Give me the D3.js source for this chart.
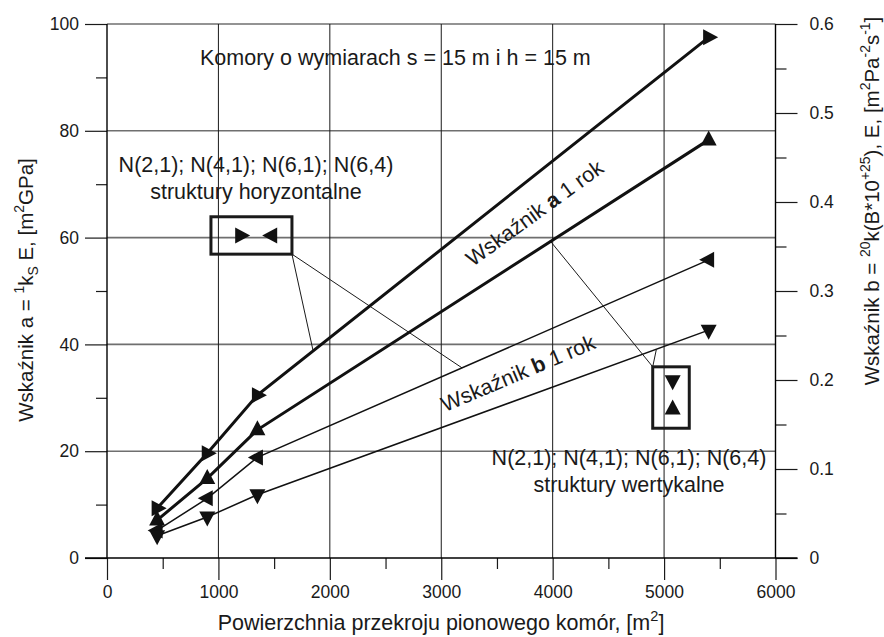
<!DOCTYPE html>
<html>
<head>
<meta charset="utf-8">
<script src="https://cdn.jsdelivr.net/npm/d3@7"></script>
<style>
  body { margin: 0; background: #fff; }
  text { font-family: "Liberation Sans", Arial, sans-serif; fill: #1a1a1a; }
</style>
</head>
<body>
<script>
// chamber cross-section area [m2]
var areas = [450, 900, 1350, 5400];
// index a (left axis) - horizontal / vertical structures
var aHoriz = [9.3, 19.6, 30.5, 97.5];
var aVert = [7.1, 14.9, 24.0, 78.3];
// index b (right axis) - horizontal / vertical structures
var bHoriz = [0.031, 0.067, 0.113, 0.335];
var bVert = [0.025, 0.046, 0.071, 0.256];

var xTicks = [0, 1000, 2000, 3000, 4000, 5000, 6000];
var xMinor = [500, 1500, 2500, 3500, 4500, 5500];
var yLeftTicks = [0, 20, 40, 60, 80, 100];
var yLeftMinor = [10, 30, 50, 70, 90];
var yRightTicks = [0, 0.1, 0.2, 0.3, 0.4, 0.5, 0.6];
var yRightMinor = [0.05, 0.15, 0.25, 0.35, 0.45, 0.55];

var w = 884, h = 637;

var x = d3.scaleLinear().domain([0, 6000]).range([107, 775.5]);
var yL = d3.scaleLinear().domain([0, 100]).range([558, 24]);
var yR = d3.scaleLinear().domain([0, 0.6]).range([558, 24]);

var svg = d3.select("body").append("svg")
    .attr("width", w)
    .attr("height", h);

// grid lines
svg.append("g").selectAll("line")
    .data(yLeftTicks.filter(function(d) { return d > 0; }))
    .enter().append("line")
    .attr("x1", x(0)).attr("x2", x(6000))
    .attr("y1", function(d) { return yL(d); })
    .attr("y2", function(d) { return yL(d); })
    .attr("stroke", "#6f6f6f").attr("stroke-width", 1.6);

svg.append("g").selectAll("line")
    .data(xTicks.filter(function(d) { return d > 0 && d < 6000; }))
    .enter().append("line")
    .attr("x1", function(d) { return x(d); })
    .attr("x2", function(d) { return x(d); })
    .attr("y1", yL(0)).attr("y2", yL(100))
    .attr("stroke", "#1a1a1a").attr("stroke-width", 1);

// axes (outward ticks, long major / short minor)
var fs = 17.5;
function styleAxis(g) {
  g.select(".domain").remove();
  g.selectAll("line").attr("stroke", "#1a1a1a").attr("stroke-width", 1.2);
  g.selectAll("text").attr("font-size", fs).attr("fill", "#1a1a1a")
    .style("font-family", "'Liberation Sans', Arial, sans-serif");
}

svg.append("g").attr("transform", "translate(" + x(0) + ",0)")
  .call(d3.axisLeft(yL).tickValues(yLeftTicks).tickSize(22).tickPadding(6).tickFormat(d3.format("d")))
  .call(styleAxis);
svg.append("g").attr("transform", "translate(" + x(0) + ",0)")
  .call(d3.axisLeft(yL).tickValues(yLeftMinor).tickSize(11).tickFormat(""))
  .call(styleAxis);

svg.append("g").attr("transform", "translate(" + x(6000) + ",0)")
  .call(d3.axisRight(yR).tickValues(yRightTicks).tickSize(22).tickPadding(12)
    .tickFormat(function(d) { return d === 0 ? "0" : d3.format(".1f")(d); }))
  .call(styleAxis);
svg.append("g").attr("transform", "translate(" + x(6000) + ",0)")
  .call(d3.axisRight(yR).tickValues(yRightMinor).tickSize(11).tickFormat(""))
  .call(styleAxis);

svg.append("g").attr("transform", "translate(0," + yL(0) + ")")
  .call(d3.axisBottom(x).tickValues(xTicks).tickSize(22).tickPadding(6).tickFormat(d3.format("d")))
  .call(styleAxis);
svg.append("g").attr("transform", "translate(0," + yL(0) + ")")
  .call(d3.axisBottom(x).tickValues(xMinor).tickSize(11).tickFormat(""))
  .call(styleAxis);

// axis lines
svg.append("line").attr("x1", x(0)).attr("x2", x(0)).attr("y1", yL(0)).attr("y2", yL(100))
  .attr("stroke", "#000").attr("stroke-width", 1.4);
svg.append("line").attr("x1", x(6000)).attr("x2", x(6000)).attr("y1", yL(0)).attr("y2", yL(100))
  .attr("stroke", "#000").attr("stroke-width", 1.4);
svg.append("line").attr("x1", x(0) - 22).attr("x2", x(6000) + 22).attr("y1", yL(0)).attr("y2", yL(0))
  .attr("stroke", "#000").attr("stroke-width", 1.4);

// series
var tri = "M0,-9.5L8,5.5L-8,5.5Z";
var rot = { up: 0, right: 90, down: 180, left: -90 };

var series = [
  { vals: aHoriz, y: yL, width: 3, dir: "right" },
  { vals: aVert, y: yL, width: 3, dir: "up" },
  { vals: bHoriz, y: yR, width: 1.5, dir: "left" },
  { vals: bVert, y: yR, width: 1.5, dir: "down" }
];

// leader lines for the legend boxes (data coordinates)
var leaders = [
  { from: [1660, 56.9], to: [1850, 38.8] },
  { from: [1660, 56.9], to: [3187, 35.6] },
  { from: [4898, 35.8], to: [3977, 59.4] },
  { from: [4898, 35.8], to: [4930, 39.0] }
];
svg.append("g").selectAll("line")
  .data(leaders).enter().append("line")
  .attr("x1", function(d) { return x(d.from[0]); })
  .attr("y1", function(d) { return yL(d.from[1]); })
  .attr("x2", function(d) { return x(d.to[0]); })
  .attr("y2", function(d) { return yL(d.to[1]); })
  .attr("stroke", "#1a1a1a").attr("stroke-width", 1);

series.forEach(function(s) {
  var line = d3.line()
    .x(function(d, i) { return x(areas[i]); })
    .y(function(d) { return s.y(d); });
  svg.append("path").datum(s.vals)
    .attr("d", line)
    .attr("fill", "none")
    .attr("stroke", "#111")
    .attr("stroke-width", s.width);
  svg.append("g").selectAll("path")
    .data(s.vals).enter().append("path")
    .attr("d", tri)
    .attr("fill", "#111")
    .attr("transform", function(d, i) {
      return "translate(" + x(areas[i]) + "," + s.y(d) + ") rotate(" + rot[s.dir] + ")";
    });
});

// legend boxes
function box(x0, x1, v0, v1) {
  svg.append("rect")
    .attr("x", x(x0)).attr("y", yL(v1))
    .attr("width", x(x1) - x(x0)).attr("height", yL(v0) - yL(v1))
    .attr("fill", "none").attr("stroke", "#1a1a1a").attr("stroke-width", 3);
}
box(933, 1660, 56.9, 63.9);
box(4898, 5226, 24.3, 35.8);

var legendMarks = [
  { cx: 1200, v: 60.4, dir: "right" },
  { cx: 1478, v: 60.4, dir: "left" },
  { cx: 5077, v: 33.2, dir: "down" },
  { cx: 5077, v: 27.9, dir: "up" }
];
svg.append("g").selectAll("path")
  .data(legendMarks).enter().append("path")
  .attr("d", tri).attr("fill", "#111")
  .attr("transform", function(d) {
    return "translate(" + x(d.cx) + "," + yL(d.v) + ") rotate(" + rot[d.dir] + ")";
  });

// rich text helper: parts = [[text, kind]] kind: "sup", "sub", "b" or undefined
function rich(g, parts, size) {
  var off = 0;
  parts.forEach(function(p) {
    var t = g.append("tspan").text(p[0]);
    var target = 0;
    if (p[1] === "sup") { target = -size * 0.42; t.attr("font-size", size * 0.68); }
    else if (p[1] === "sub") { target = size * 0.22; t.attr("font-size", size * 0.68); }
    else { t.attr("font-size", size); }
    if (p[1] === "b") t.attr("font-weight", "bold");
    if (target !== off) { t.attr("dy", target - off); off = target; }
  });
  return g;
}

var tf = 21.5;   // annotations
var af = 20.5;   // axis titles
svg.append("text").attr("x", 200).attr("y", 65).attr("font-size", tf)
  .text("Komory o wymiarach s = 15 m i h = 15 m");

svg.append("text").attr("x", 256).attr("y", 172).attr("font-size", tf).attr("text-anchor", "middle")
  .text("N(2,1); N(4,1); N(6,1); N(6,4)");
svg.append("text").attr("x", 256).attr("y", 199).attr("font-size", tf).attr("text-anchor", "middle")
  .text("struktury horyzontalne");

svg.append("text").attr("x", 629).attr("y", 465).attr("font-size", tf).attr("text-anchor", "middle")
  .text("N(2,1); N(4,1); N(6,1); N(6,4)");
svg.append("text").attr("x", 629).attr("y", 492).attr("font-size", tf).attr("text-anchor", "middle")
  .text("struktury wertykalne");

rich(svg.append("text").attr("text-anchor", "middle")
  .attr("transform", "translate(539,219) rotate(-36)"),
  [["Wskaźnik "], ["a", "b"], [" 1 rok"]], tf);
rich(svg.append("text").attr("text-anchor", "middle")
  .attr("transform", "translate(521,380) rotate(-23)"),
  [["Wskaźnik "], ["b", "b"], [" 1 rok"]], tf);

// axis titles
rich(svg.append("text").attr("text-anchor", "middle")
  .attr("transform", "translate(33,290) rotate(-90)"),
  [["Wskaźnik a = "], ["1", "sup"], ["k"], ["S", "sub"], [" E, [m"], ["2", "sup"], ["GPa]"]], af);

rich(svg.append("text").attr("text-anchor", "middle")
  .attr("transform", "translate(879,201) rotate(-90)"),
  [["Wskaźnik b = "], ["20", "sup"], ["k(B*10"], ["+25", "sup"], ["), E, [m"], ["2", "sup"],
   ["Pa"], ["-2", "sup"], ["s"], ["-1", "sup"], ["]"]], af);

rich(svg.append("text").attr("text-anchor", "middle").attr("x", 441).attr("y", 630),
  [["Powierzchnia przekroju pionowego komór, [m"], ["2", "sup"], ["]"]], tf);
</script>
</body>
</html>
